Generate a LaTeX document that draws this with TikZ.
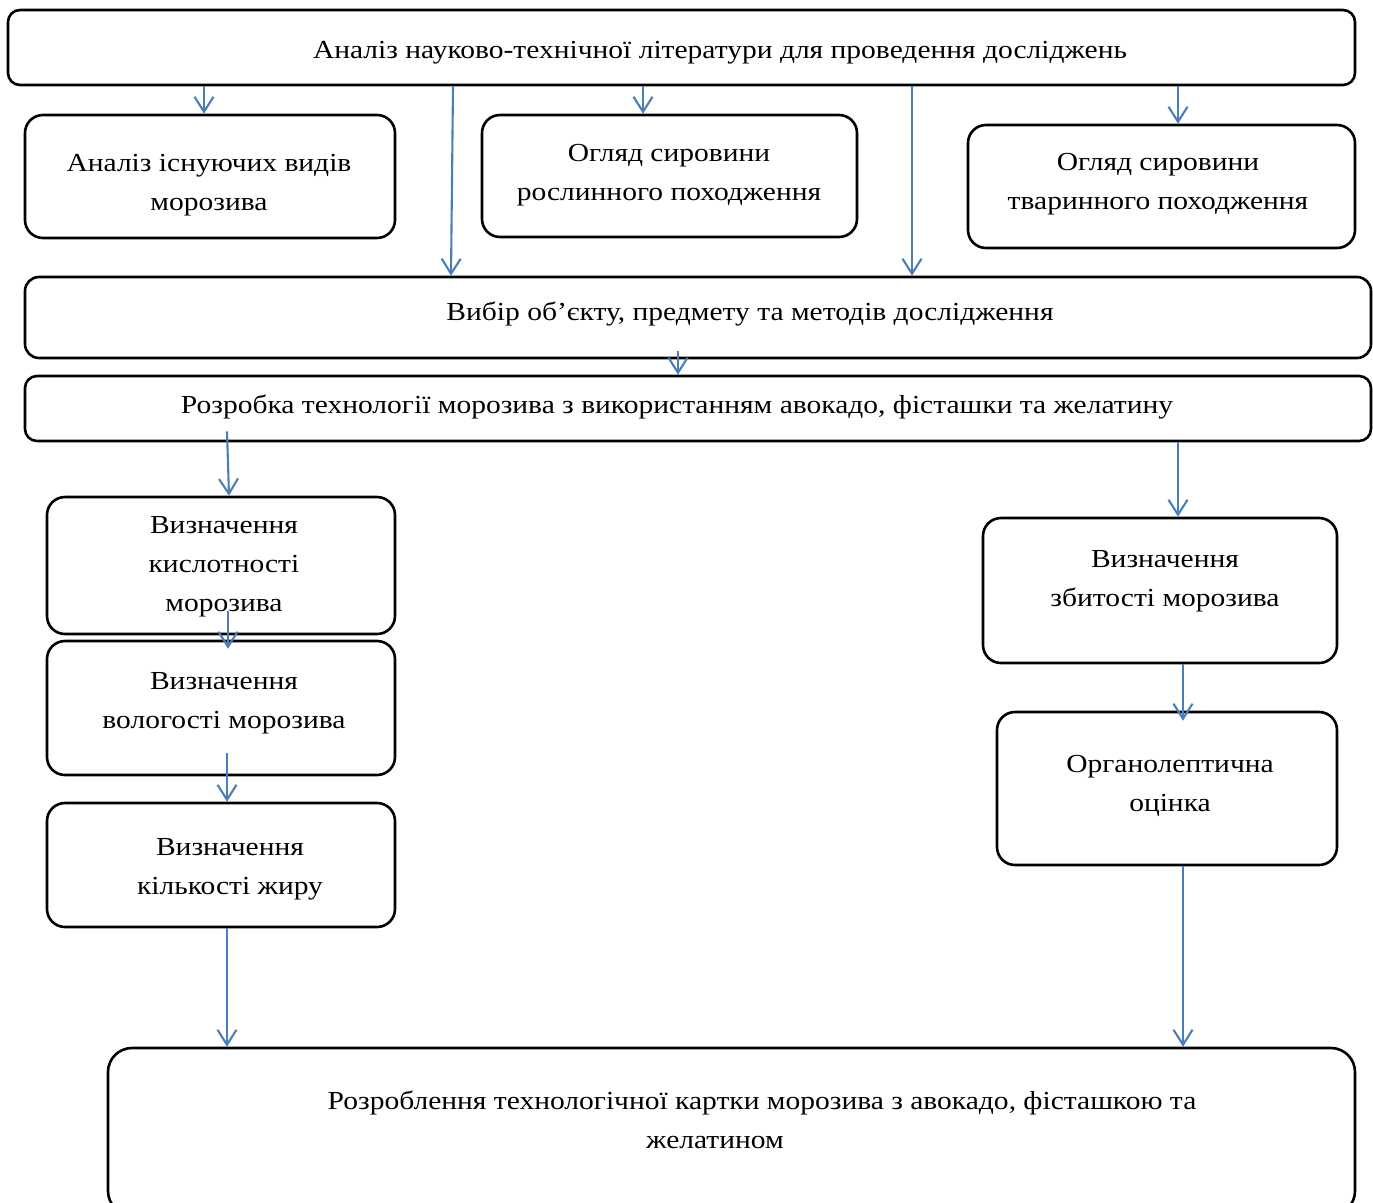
\documentclass[tikz,border=0pt]{standalone}
\usepackage{fontspec}
\setmainfont{Liberation Serif}[FakeStretch=1.135]
\usetikzlibrary{arrows.meta,calc}
\definecolor{arrblue}{RGB}{74,126,187}
\begin{document}
\begin{tikzpicture}[x=1pt,y=-1pt,
 box/.style={draw=black, line width=2.6pt, rounded corners=18pt, inner sep=0pt},
 lbl/.style={align=center, inner sep=0pt, font=\fontsize{26}{39}\selectfont},
 arr/.style={draw=arrblue, line width=2.1pt, -{Straight Barb[length=15pt,width=19pt,line width=2.1pt]}}]
\useasboundingbox[fill=white] (0,0) rectangle (1373,1202);
% boxes
\node[box, rounded corners=12pt, minimum width=1347, minimum height=75] (top) at (681.5,47.5) {};
\node[box, minimum width=370, minimum height=123] (b2) at (210,176.5) {};
\node[box, minimum width=375, minimum height=122] (b3) at (669.5,176) {};
\node[box, minimum width=387, minimum height=123] (b4) at (1161.5,186.5) {};
\node[box, rounded corners=14pt, minimum width=1346, minimum height=81] (b5) at (698,317.5) {};
\node[box, rounded corners=12pt, minimum width=1346, minimum height=65] (b6) at (698,408.5) {};
\node[box, minimum width=348, minimum height=137] (b7) at (221,565.5) {};
\node[box, minimum width=348, minimum height=134] (b8) at (221,708) {};
\node[box, minimum width=348, minimum height=124] (b9) at (221,865) {};
\node[box, minimum width=354, minimum height=145] (b10) at (1160,590.5) {};
\node[box, minimum width=340, minimum height=153] (b11) at (1167,788.5) {};
\node[box, rounded corners=24pt, minimum width=1247, minimum height=167] (b12) at (731.5,1131.5) {};
% labels
\node[lbl] (t1) at (720,53) {Аналіз науково-технічної літератури для проведення досліджень};
\node[lbl] (t2) at (209,185.5) {Аналіз існуючих видів\\морозива};
\node[lbl] (t3) at (669,175.5) {Огляд сировини\\рослинного походження};
\node[lbl] (t4) at (1158,184.5) {Огляд сировини\\тваринного походження};
\node[lbl] (t5) at (750,314) {Вибір об’єкту, предмету та методів дослідження};
\node[lbl] (t6) at (677,407) {Розробка технології морозива з використанням авокадо, фісташки та желатину};
\node[lbl] (t7) at (224,567) {Визначення\\кислотності\\морозива};
\node[lbl] (t8) at (224,703.5) {Визначення\\вологості морозива};
\node[lbl] (t9) at (230,869.5) {Визначення\\кількості жиру};
\node[lbl] (t10) at (1165,581.5) {Визначення\\збитості морозива};
\node[lbl] (t11) at (1170,785.5) {Органолептична\\оцінка};
\node[lbl] (t12) at (762,1119.5) {Розроблення технологічної картки морозива з авокадо, фісташкою та\\\hspace*{-94pt}желатином};
% arrows
\draw[arr] (top.south -| 204,0) -- (b2.north -| 204,0);
\draw[arr] (top.south -| 453,0) -- (b5.north -| 451,0);
\draw[arr] (top.south -| 643,0) -- (b3.north -| 643,0);
\draw[arr] (top.south -| 912,0) -- (b5.north -| 912,0);
\draw[arr] (top.south -| 1178,0) -- (b4.north -| 1178,0);
\draw[arr] ($(b5.south -| 678,0)+(0,-8)$) -- (b6.north -| 678,0);
\draw[arr] ($(b6.south -| 227,0)+(0,-11)$) -- (b7.north -| 229,0);
\draw[arr] (b6.south -| 1178,0) -- (b10.north -| 1178,0);
\draw[arr] ($(b7.south -| 228,0)+(0,-24)$) -- ($(b8.north -| 228,0)+(0,9)$);
\draw[arr] ($(b8.south -| 227,0)+(0,-23)$) -- (b9.north -| 227,0);
\draw[arr] (b10.south -| 1183,0) -- ($(b11.north -| 1183,0)+(0,10)$);
\draw[arr] (b9.south -| 227,0) -- (b12.north -| 227,0);
\draw[arr] (b11.south -| 1183,0) -- (b12.north -| 1183,0);
\end{tikzpicture}
\end{document}
